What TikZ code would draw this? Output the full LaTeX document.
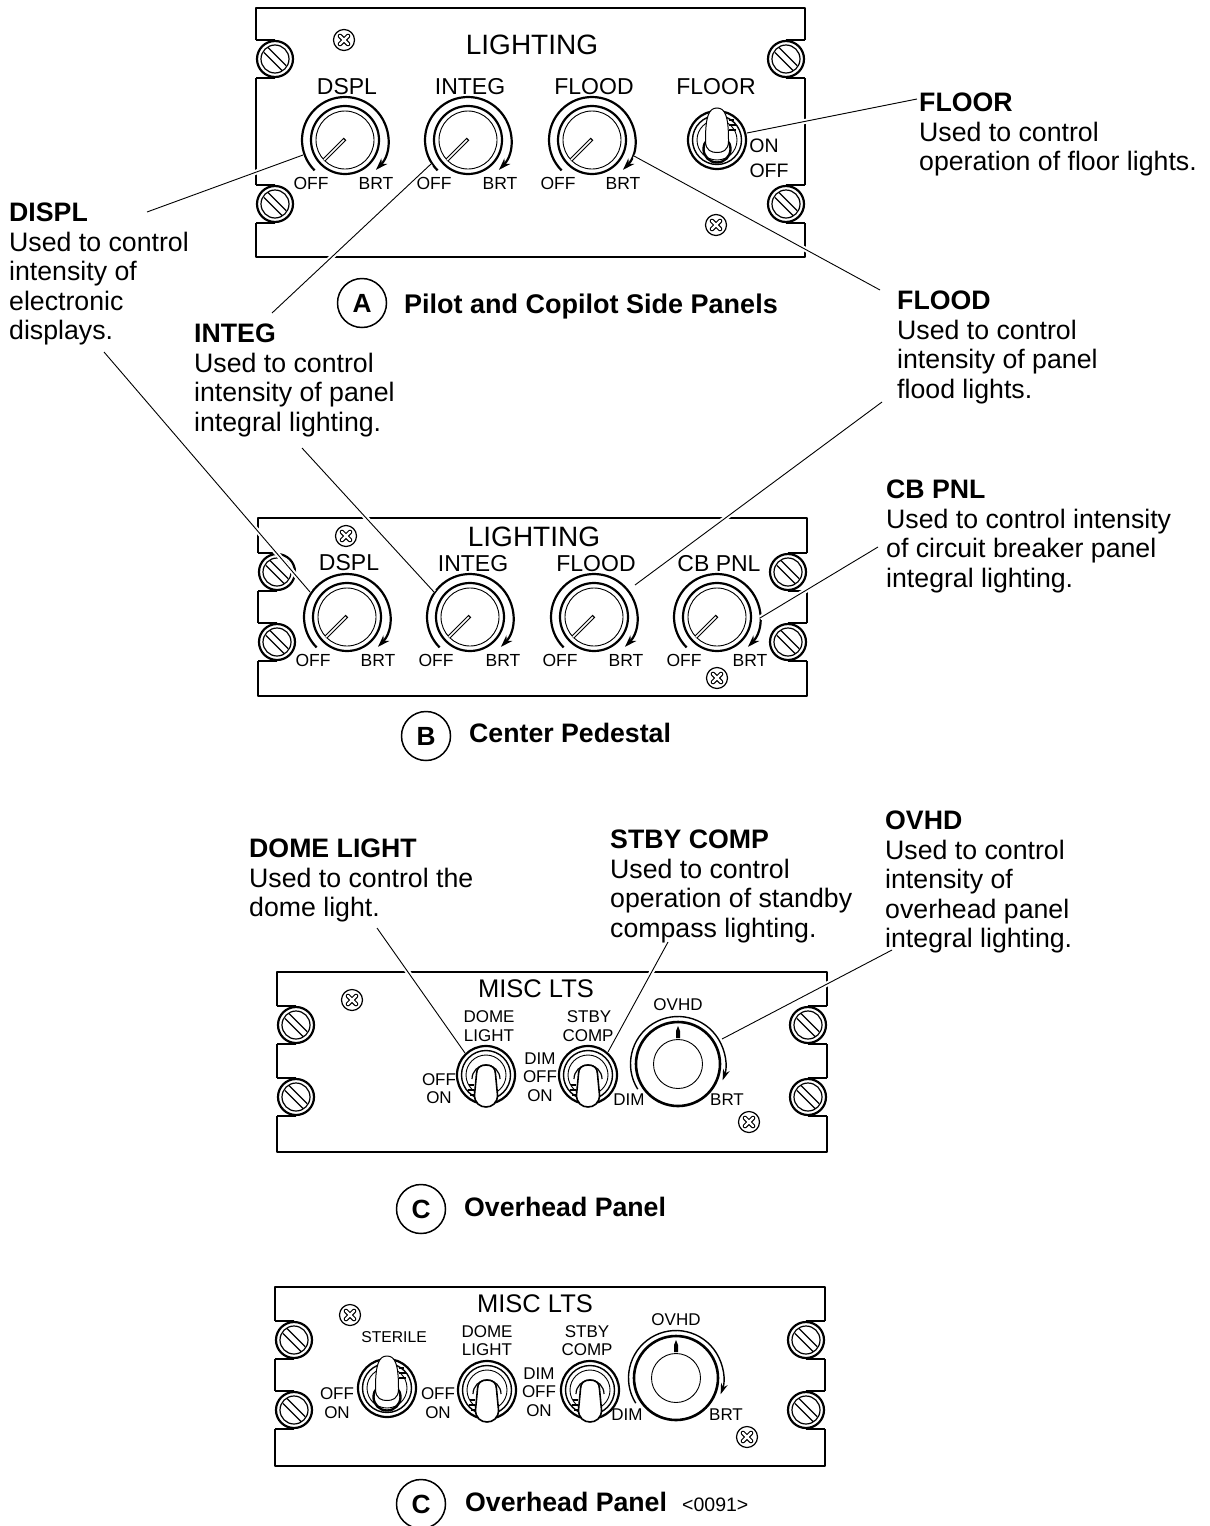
\documentclass[tikz,border=0pt]{standalone}
\usepackage{fontspec}
\setmainfont{Liberation Sans}
\usetikzlibrary{arrows.meta}
\newcounter{lblc}
\tikzset{
  thinl/.style={line width=0.9pt},
  ringl/.style={line width=2.2pt},
  edgel/.style={line width=2.9pt,line join=round},
  earl/.style={line width=1.3pt},
  leaderl/.style={line width=0.9pt},
  halol/.style={line width=5pt,white},
  blockl/.style={anchor=north west,inner sep=0pt,align=left,font=\fontsize{26.7}{29.5}\selectfont},
  capl/.style={anchor=base west,inner sep=0pt,font=\fontsize{26.7}{29.5}\selectfont\bfseries},
  badgel/.style={circle,draw,line width=1.5pt,minimum size=49pt,inner sep=0pt,font=\fontsize{26.3}{29.5}\selectfont\bfseries}
}
% text label
\newcommand\lbl[4]{\stepcounter{lblc}\node[inner sep=0pt,font=\fontsize{#1}{#1}\selectfont] (lb\arabic{lblc}) at (#2,#3) {#4};}
% big screw
\newcommand\scr[2]{%
  \fill[white] (#1,#2) circle (18.5);
  \draw[line width=2.2pt] (#1,#2) circle (18);
  \draw[line width=1.2pt] (#1,#2) circle (14);
  \draw[line width=1.2pt] (#1,#2) ++(-7,-11.5) -- ++(18,18);
  \draw[line width=1.2pt] (#1,#2) ++(-11,-6.5) -- ++(18,18);
}
% small screw
\newcommand\phil[2]{%
  \draw[line width=1.2pt] (#1,#2) circle (10.5);
  \draw[line width=4.6pt,line cap=round] (#1,#2) ++(-4,-4) -- ++(8,8);
  \draw[line width=4.6pt,line cap=round] (#1,#2) ++(-4,4) -- ++(8,-8);
  \draw[line width=2.4pt,line cap=round,white] (#1,#2) ++(-4,-4) -- ++(8,8);
  \draw[line width=2.4pt,line cap=round,white] (#1,#2) ++(-4,4) -- ++(8,-8);
}
% panel: x1 y1 x2 y2 screwA screwB
\newcommand\panel[6]{%
  \draw[edgel] (#1,#5-19) -- (#1,#2) -- (#3,#2) -- (#3,#5-19);
  \draw[edgel] (#1,#6+19) -- (#1,#4) -- (#3,#4) -- (#3,#6+19);
  \draw[edgel] (#1,#5+19) -- (#1,#6-19);
  \draw[edgel] (#3,#5+19) -- (#3,#6-19);
  \foreach \yy in {#5,#6}{
    \draw[earl] (#1,\yy-19) -- ({#1+19},\yy-19);
    \draw[earl] (#1,\yy+19) -- ({#1+19},\yy+19);
    \draw[earl] (#3,\yy-19) -- ({#3-19},\yy-19);
    \draw[earl] (#3,\yy+19) -- ({#3-19},\yy+19);
    \scr{#1+19}{\yy}
    \scr{#3-19}{\yy}
  }
}
% rotary knob
\newcommand\knob[2]{%
  \draw[ringl] (#1,#2) circle (34);
  \draw[thinl] (#1,#2) circle (29);
  \draw[ringl,-{Stealth[length=12pt,width=8pt]}] (#1,#2) ++(135:43) arc (135:404:43);
  \draw[line width=3.6pt] (#1,#2) ++(0,-1) -- ++(-21,21);
  \draw[line width=1.6pt,white] (#1,#2) ++(-1,0) -- ++(-20,20);
}
% toggle rings
\newcommand\rings{%
  \draw[line width=2.2pt] (0,0) circle (29);
  \draw[line width=1.4pt] (0,0) circle (24.5);
  \draw[thinl] (0,0) circle (20);
}
% toggle, lever up
\newcommand\togup[2]{%
  \begin{scope}[shift={(#1,#2)}]
  \rings
  \draw[line width=2.4pt] (0,9) circle (13.5);
  \draw[line width=1pt,fill=white] (-11.5,0)
     .. controls (-11.5,-24) and (-8,-32) .. (0,-32)
     .. controls (8,-32) and (11.5,-24) .. (11.5,0)
     -- (11.5,1) .. controls (11.5,11) and (5,12.5) .. (0,12.5)
     .. controls (-5,12.5) and (-11.5,11) .. (-11.5,1) -- cycle;
  \draw[line width=1.2pt] (12,-20) -- (17,-20) (12,-15) -- (19,-15) (12,-10) -- (19,-10);
  \end{scope}
}
% toggle, lever down
\newcommand\togdn[2]{%
  \begin{scope}[shift={(#1,#2)}]
  \rings
  \draw[line width=1.2pt] (-14,4) arc (180:360:14);
  \draw[line width=1.2pt] (-17,10) -- (-12,10) (-18,15) -- (-12,15) (-16,20) -- (-12,20);
  \draw[line width=1.6pt,fill=white] (-9.5,-1)
     .. controls (-9.5,-7) and (-6,-10) .. (0,-10)
     .. controls (6,-10) and (9.5,-7) .. (9.5,-1)
     -- (11.5,20) .. controls (11.5,28) and (6,32) .. (0,32)
     .. controls (-6,32) and (-11.5,28) .. (-11.5,20) -- cycle;
  \end{scope}
}
% overhead knob
\newcommand\ovhd[2]{%
  \draw[line width=2.6pt] (#1,#2) circle (42);
  \draw[thinl] (#1,#2) circle (24.5);
  \draw[line width=1.4pt,-{Stealth[length=11pt,width=7pt]}] (#1,#2) ++(148:47.5) arc (148:380:47.5);
  \fill (#1,#2) ++(-2,-26) -- ++(0,-7) -- ++(2,-5) -- ++(2,5) -- ++(0,7) -- cycle;
}
\begin{document}
\begin{tikzpicture}[x=1pt,y=-1pt]
\useasboundingbox (0,0) rectangle (1210,1526);
\fill[white] (0,0) rectangle (1210,1526);

% ---- Panel A
\panel{256}{8}{805}{257}{59}{204}
\phil{344}{40}\phil{716}{225}
\knob{345}{140}\knob{468}{140}\knob{592}{140}\togup{717}{140}
\lbl{28}{532}{45}{LIGHTING}
\lbl{23}{347}{87}{DSPL}\lbl{23}{470}{87}{INTEG}\lbl{23}{594}{87}{FLOOD}\lbl{23}{716}{87}{FLOOR}
\lbl{17.5}{311}{183}{OFF}\lbl{17.5}{376}{183}{BRT}
\lbl{17.5}{434}{183}{OFF}\lbl{17.5}{500}{183}{BRT}
\lbl{17.5}{558}{183}{OFF}\lbl{17.5}{623}{183}{BRT}
\lbl{19.5}{764}{146}{ON}\lbl{19.5}{769}{171}{OFF}

% ---- Panel B
\panel{258}{518}{807}{696}{572}{642}
\phil{346}{536}\phil{717}{678}
\knob{347}{617}\knob{470}{617}\knob{594}{617}\knob{717}{617}
\lbl{28}{534}{537}{LIGHTING}
\lbl{23}{349}{563}{DSPL}\lbl{23}{473}{564}{INTEG}\lbl{23}{596}{564}{FLOOD}\lbl{23}{719}{564}{CB PNL}
\lbl{17.5}{313}{660}{OFF}\lbl{17.5}{378}{660}{BRT}
\lbl{17.5}{436}{660}{OFF}\lbl{17.5}{503}{660}{BRT}
\lbl{17.5}{560}{660}{OFF}\lbl{17.5}{626}{660}{BRT}
\lbl{17.5}{684}{660}{OFF}\lbl{17.5}{750}{660}{BRT}

% ---- Panel C1
\panel{277}{972}{827}{1152}{1025}{1097}
\phil{352}{1000}\phil{749}{1122}
\togdn{486}{1075}\togdn{588}{1075}\ovhd{678}{1064}
\lbl{25.5}{536}{989}{MISC LTS}
\lbl{17}{489}{1017}{DOME}\lbl{17}{489}{1036}{LIGHT}
\lbl{17}{439}{1080}{OFF}\lbl{17}{439}{1098}{ON}
\lbl{17}{540}{1059}{DIM}\lbl{17}{540}{1077}{OFF}\lbl{17}{540}{1096}{ON}
\lbl{17}{589}{1017}{STBY}\lbl{17}{588}{1036}{COMP}
\lbl{17}{678}{1005}{OVHD}
\lbl{17}{629}{1100}{DIM}\lbl{17}{727}{1100}{BRT}

% ---- Panel C2
\panel{275}{1287}{825}{1466}{1340}{1410}
\phil{350}{1315}\phil{747}{1437}
\togup{387}{1388}\togdn{487}{1390}\togdn{590}{1390}\ovhd{676}{1378}
\lbl{25.5}{535}{1304}{MISC LTS}
\lbl{15.7}{394}{1337}{STERILE}
\lbl{17}{487}{1332}{DOME}\lbl{17}{487}{1350}{LIGHT}
\lbl{17}{337}{1394}{OFF}\lbl{17}{337}{1413}{ON}
\lbl{17}{438}{1394}{OFF}\lbl{17}{438}{1413}{ON}
\lbl{17}{539}{1374}{DIM}\lbl{17}{539}{1392}{OFF}\lbl{17}{539}{1411}{ON}
\lbl{17}{587}{1332}{STBY}\lbl{17}{587}{1350}{COMP}
\lbl{17}{676}{1320}{OVHD}
\lbl{17}{627}{1415}{DIM}\lbl{17}{726}{1415}{BRT}

% ---- Callout texts
\node[blockl] (tfloor) at (919,93) {\textbf{FLOOR}\\Used to control\\operation of floor lights.};
\node[blockl] (tdispl) at (9,203) {\textbf{DISPL}\\Used to control\\intensity of\\electronic\\displays.};
\node[blockl] (tinteg) at (194,324) {\textbf{INTEG}\\Used to control\\intensity of panel\\integral lighting.};
\node[blockl] (tflood) at (897,291) {\textbf{FLOOD}\\Used to control\\intensity of panel\\flood lights.};
\node[blockl] (tcbpnl) at (886,480) {\textbf{CB PNL}\\Used to control intensity\\of circuit breaker panel\\integral lighting.};
\node[blockl] (tdome) at (249,839) {\textbf{DOME LIGHT}\\Used to control the\\dome light.};
\node[blockl] (tstby) at (610,830) {\textbf{STBY COMP}\\Used to control\\operation of standby\\compass lighting.};
\node[blockl] (tovhd) at (885,811) {\textbf{OVHD}\\Used to control\\intensity of\\overhead panel\\integral lighting.};

% ---- Captions
\node[badgel] (ba) at (362,303) {A};
\node[capl,font=\fontsize{27}{29.5}\selectfont\bfseries] (ca) at (404,313) {Pilot and Copilot Side Panels};
\node[badgel] (bb) at (426,736) {B};
\node[capl] (cb) at (469,742) {Center Pedestal};
\node[badgel] (bc) at (421,1209) {C};
\node[capl] (cc) at (464,1216) {Overhead Panel};
\node[badgel] (bd) at (421,1504) {C};
\node[capl] (cd) at (465,1511) {Overhead Panel};
\node[anchor=base west,inner sep=0pt,font=\fontsize{19.5}{20}\selectfont] (code) at (682,1511) {<0091>};

% ---- Leaders
\coordinate (a1) at (147,212);  \coordinate (a2) at (303,155);
\coordinate (b1) at (104,352);  \coordinate (b2) at (310,592);
\coordinate (c1) at (272,313);  \coordinate (c2) at (431,164);
\coordinate (d1) at (302,448);  \coordinate (d2) at (434,592);
\coordinate (e1) at (880,290);  \coordinate (e2) at (634,156);
\coordinate (f1) at (882,402);  \coordinate (f2) at (635,585);
\coordinate (g1) at (917,99);   \coordinate (g2) at (747,133);
\coordinate (h1) at (878,547);  \coordinate (h2) at (760,618);
\coordinate (i1) at (377,928);  \coordinate (i2) at (465,1053);
\coordinate (j1) at (668,942);  \coordinate (j2) at (608,1052);
\coordinate (k1) at (892,950);  \coordinate (k2) at (722,1039);
\foreach \p/\q in {a1/a2,b1/b2,c1/c2,d1/d2,e1/e2,f1/f2,g1/g2,h1/h2,i1/i2,j1/j2,k1/k2}{
  \draw[halol] (\p) -- (\q);
  \draw[leaderl] (\p) -- (\q);
}
\end{tikzpicture}
\end{document}
